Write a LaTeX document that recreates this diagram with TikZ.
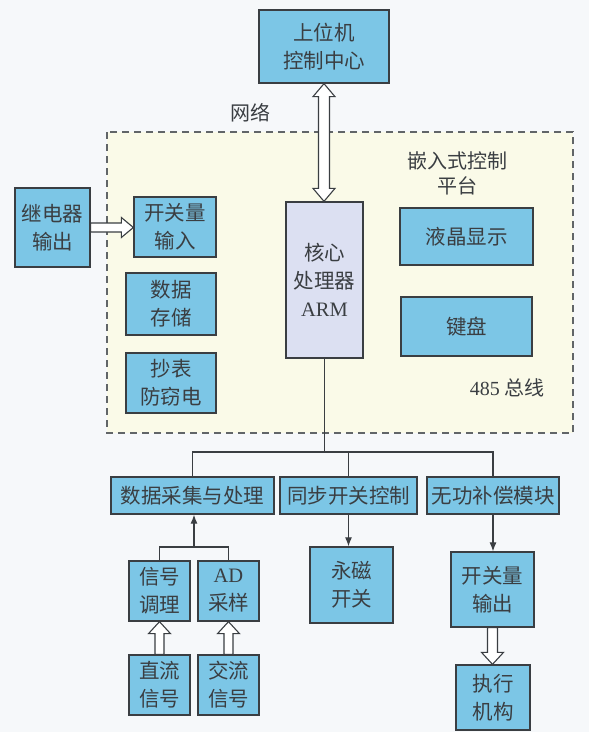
\documentclass[tikz,border=0pt]{standalone}
\usepackage{fontspec}
\setmainfont{Liberation Serif}
\newfontfamily\cjk{Noto Sans CJK SC}
\usetikzlibrary{arrows.meta,calc}
\definecolor{boxblue}{RGB}{124,198,230}
\definecolor{armfill}{RGB}{220,224,242}
\definecolor{platfill}{RGB}{250,250,232}
\definecolor{bgc}{RGB}{246,248,250}
\definecolor{ink}{RGB}{58,62,66}
\begin{document}
\begin{tikzpicture}[x=1pt,y=-1pt,
  blk/.style={draw=ink, line width=1.3pt, fill=boxblue, text=ink, align=center, inner sep=0pt,
    font=\cjk\fontsize{20.5}{28}\selectfont},
  lbl/.style={text=ink, align=center, inner sep=0pt, font=\cjk\fontsize{20}{25}\selectfont},
  hollow/.style={draw=ink, line width=1.1pt, fill=white, line join=miter},
  conn/.style={draw=ink, line width=1.1pt},
  arr/.style={conn, -{Latex[length=9pt,width=7pt]}},
  dashbox/.style={draw=ink!80, line width=1.3pt, dash pattern=on 7pt off 5pt, fill=platfill}
]
\useasboundingbox[fill=bgc] (0,0) rectangle (589,732);

% embedded platform
\path[dashbox] (107,132) rectangle (573,433);

% nodes
\node[blk, minimum width=130pt, minimum height=73pt] (top) at (324,46.5) {上位机\\控制中心};
\node[lbl] (net) at (250,113) {网络};
\node[lbl] (plat) at (457,173) {嵌入式控制\\平台};
\node[lbl] (bus485) at (507,388) {{\rmfamily 485} 总线};

\node[blk, minimum width=75pt, minimum height=79pt] (relay) at (52.5,227.5) {继电器\\输出};
\node[blk, minimum width=82pt, minimum height=60pt] (swin) at (175,227) {开关量\\输入};
\node[blk, minimum width=90pt, minimum height=62pt] (store) at (171,304) {数据\\存储};
\node[blk, minimum width=90pt, minimum height=60pt] (meter) at (171,383) {抄表\\防窃电};
\node[blk, fill=armfill, minimum width=77pt, minimum height=156pt] (arm) at (324.5,280) {核心\\处理器\\{\rmfamily ARM}};
\node[blk, minimum width=133pt, minimum height=57pt] (lcd) at (466.5,236.5) {液晶显示};
\node[blk, minimum width=131pt, minimum height=59pt] (kbd) at (466.5,326.5) {键盘};

\node[blk, minimum width=163pt, minimum height=37pt] (daq) at (192.5,495.5) {数据采集与处理};
\node[blk, minimum width=137pt, minimum height=37pt] (sync) at (348.5,495.5) {同步开关控制};
\node[blk, minimum width=132pt, minimum height=37pt] (var) at (493,495.5) {无功补偿模块};

\node[blk, minimum width=61pt, minimum height=60pt] (sig) at (159.5,591) {信号\\调理};
\node[blk, minimum width=61pt, minimum height=60pt] (ad) at (228.5,591) {{\rmfamily AD}\\采样};
\node[blk, minimum width=61pt, minimum height=60pt] (dc) at (159.5,685) {直流\\信号};
\node[blk, minimum width=61pt, minimum height=60pt] (ac) at (228.5,685) {交流\\信号};
\node[blk, minimum width=83pt, minimum height=76pt] (pm) at (351.5,585) {永磁\\开关};
\node[blk, minimum width=83pt, minimum height=75pt] (swout) at (492.5,589.5) {开关量\\输出};
\node[blk, minimum width=74pt, minimum height=65pt] (act) at (493,697.5) {执行\\机构};

% double hollow arrow top <-> arm
\path[hollow] let \p1=(top.south), \p2=(arm.north) in
  (\x1,\y1) -- (\x1+11pt,\y1-13pt) -- (\x1+5.5pt,\y1-13pt) -- (\x1+5.5pt,\y2+13pt) -- (\x1+11pt,\y2+13pt)
  -- (\x1,\y2) -- (\x1-11pt,\y2+13pt) -- (\x1-5.5pt,\y2+13pt) -- (\x1-5.5pt,\y1-13pt) -- (\x1-11pt,\y1-13pt) -- cycle;

% relay -> switch input
\path[hollow] let \p1=(relay.east), \p2=(swin.west) in
  (\x1,\y1+4.5pt) -- (\x2-12pt,\y1+4.5pt) -- (\x2-12pt,\y1+10pt) -- (\x2,\y1) -- (\x2-12pt,\y1-10pt)
  -- (\x2-12pt,\y1-4.5pt) -- (\x1,\y1-4.5pt) -- cycle;

% dc -> sig, ac -> ad
\path[hollow] let \p1=(dc.north), \p2=(sig.south) in
  (\x1-4.5pt,\y1) -- (\x1-4.5pt,\y2-12pt) -- (\x1-11pt,\y2-12pt) -- (\x1,\y2) -- (\x1+11pt,\y2-12pt)
  -- (\x1+4.5pt,\y2-12pt) -- (\x1+4.5pt,\y1) -- cycle;
\path[hollow] let \p1=(ac.north), \p2=(ad.south) in
  (\x1-4.5pt,\y1) -- (\x1-4.5pt,\y2-12pt) -- (\x1-11pt,\y2-12pt) -- (\x1,\y2) -- (\x1+11pt,\y2-12pt)
  -- (\x1+4.5pt,\y2-12pt) -- (\x1+4.5pt,\y1) -- cycle;

% swout -> act
\path[hollow] let \p1=(swout.south), \p2=(act.north) in
  (\x1-5pt,\y1) -- (\x1-5pt,\y2+12pt) -- (\x1-11pt,\y2+12pt) -- (\x1,\y2) -- (\x1+11pt,\y2+12pt)
  -- (\x1+5pt,\y2+12pt) -- (\x1+5pt,\y1) -- cycle;

% bus
\coordinate (busc) at (324.5,452);
\draw[conn] (arm.south) -- (busc);
\draw[conn] (daq.north) -- (daq.north |- busc) -- (var.north |- busc) -- (var.north);
\draw[conn] (sync.north |- busc) -- (sync.north);

% signal join
\coordinate (jn) at (194,547);
\draw[conn] (sig.north) -- (sig.north |- jn) -- (ad.north |- jn) -- (ad.north);
\draw[arr] (jn) -- (jn |- daq.south);

\draw[arr] (sync.south) -- (sync.south |- pm.north);
\draw[arr] (var.south) -- (var.south |- swout.north);
\end{tikzpicture}
\end{document}
